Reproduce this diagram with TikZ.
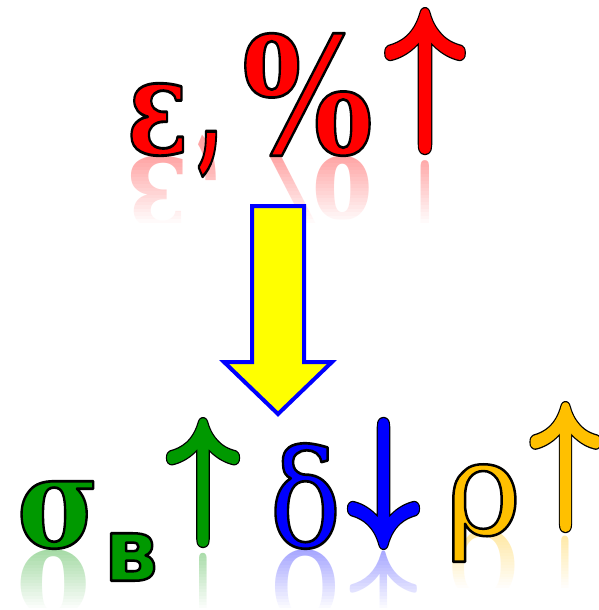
\documentclass[tikz,border=0pt]{standalone}
\usepackage{amsmath}
\usepackage{graphicx}
\usepackage{fontspec}
\newfontfamily\gserif{DejaVu Serif}
\newfontfamily\vsans{DejaVu Sans}
\definecolor{cred}{HTML}{FF0000}
\definecolor{cgreen}{HTML}{009900}
\definecolor{cblue}{HTML}{0000FF}
\definecolor{corange}{HTML}{FFC000}
\definecolor{cyellow}{HTML}{FFFF00}
\newsavebox\gbox
% outlined glyph: #1 colour name, #2 rgb for stroke, #3 W, #4 H, #5 glyph, #6 outline, #7 thickening
\newcommand\olg[7]{%
  {\color{#1}%
  \setbox\gbox=\hbox{#5}%
  \pgfmathsetmacro\sfx{#3/\wd\gbox}%
  \pgfmathsetmacro\sfy{#4/(\ht\gbox+\dp\gbox)}%
  \pgfmathsetmacro\sfm{sqrt(\sfx*\sfy)}%
  \pgfmathsetmacro\lwa{(#6+#7)/\sfm}%
  \pgfmathsetmacro\lwb{#7/\sfm}%
  \special{x:gsave}%
  \special{pdf:literal direct 0 0 0 RG 1 j 1 J \lwa\space w 2 Tr}%
  \ifdim #7pt>0pt
    \rlap{\scalebox{\sfx}[\sfy]{\usebox\gbox}}%
    \special{pdf:literal direct #2 RG \lwb\space w 2 Tr}%
  \fi
  \scalebox{\sfx}[\sfy]{\usebox\gbox}%
  \special{x:grestore}}}
% plain reflected glyph
\newcommand\rfl[4]{{\color{#1!35!white}\scalebox{1}[-1]{\resizebox*{#2pt}{#3pt}{#4}}}}
\newcommand\Eps{\gserif\bfseries ε}
\newcommand\Com{\gserif\bfseries ,}
\newcommand\Pct{\gserif\bfseries \%}
\newcommand\Upa{$\boldsymbol{\uparrow}$}
\newcommand\Dna{$\boldsymbol{\downarrow}$}
\newcommand\Sig{\gserif\bfseries σ}
\newcommand\Vee{\vsans\bfseries в}
\newcommand\Del{\gserif δ}
\newcommand\Rho{\gserif ρ}
\newcommand\fadeband[4]{% x1, x2, ytop, length
  \foreach \i [evaluate=\i as \op using \i/19] in {0,...,19}{%
    \fill[white, fill opacity=\op] ({#1},{#3+\i*#4/20}) rectangle ({#2},{#3+(\i+1)*#4/20});}}
\begin{document}
\begin{tikzpicture}[x=1pt,y=-1pt,
  gl/.style={inner sep=0pt,outer sep=0pt,anchor=south},
  rf/.style={inner sep=0pt,outer sep=0pt,anchor=north},
  blockarrow/.style={draw=cblue,line width=4pt,fill=cyellow,line join=miter}]
\useasboundingbox (0,0) rectangle (599,610);
% reflections
\node[rf] (epsR) at (157.5,156.25) {\rfl{cred}{62}{72.5}{\Eps}};
\node[rf] (comR) at (210.5,135.25) {\rfl{cred}{26}{45.5}{\Com}};
\node[rf] (pctR) at (307.5,156.25) {\rfl{cred}{131}{122.5}{\Pct}};
\node[rf] (upRR) at (425,160.25) {\rfl{cred}{79.5}{141.5}{\Upa}};
\node[rf] (sigR) at (58,549.25) {\rfl{cgreen}{82}{67.5}{\Sig}};
\node[rf] (upGR) at (203,553.25) {\rfl{cgreen}{71.5}{124.5}{\Upa}};
\node[rf] (delR) at (305.5,549.25) {\rfl{cblue}{72}{105.5}{\Del}};
\node[rf] (dnR) at (383.5,551.25) {\rfl{cblue}{70.5}{126.5}{\Dna}};
\node[rf] (rhoR) at (483.5,504.25) {\rfl{corange}{77}{97.5}{\Rho}};
\node[rf] (upOR) at (565.5,536.25) {\rfl{corange}{69.5}{125.5}{\Upa}};
% fading of reflections
\fadeband{100}{490}{156}{70}
\fill[white] (100,226) rectangle (490,400);
\fadeband{0}{440}{549}{62}
\fadeband{440}{620}{533}{58}
\fill[white] (440,591) rectangle (620,620);
% block arrow
\draw[blockarrow] (252,206) -- (304,206) -- (304,362) -- (332,362) -- (278,414)
  -- (224,362) -- (252,362) -- cycle;
% glyphs
\node[gl] (eps) at (157.5,155.75) {\olg{cred}{1 0 0}{62}{72.5}{\Eps}{2.5}{0}};
\node[gl] (com) at (210.5,176.75) {\olg{cred}{1 0 0}{26}{45.5}{\Com}{2.5}{0}};
\node[gl] (pct) at (307.5,155.75) {\olg{cred}{1 0 0}{131}{122.5}{\Pct}{2.5}{0}};
\node[gl] (upR) at (425,151.75) {\olg{cred}{1 0 0}{79.5}{141.5}{\Upa}{2.5}{4}};
\node[gl] (sig) at (58,548.75) {\olg{cgreen}{0 0.6 0}{82}{67.5}{\Sig}{2.5}{0}};
\node[gl] (ve) at (131,580.75) {\olg{cgreen}{0 0.6 0}{54}{47.5}{\Vee}{2.5}{0}};
\node[gl] (upG) at (203,544.75) {\olg{cgreen}{0 0.6 0}{71.5}{124.5}{\Upa}{2.5}{4}};
\node[gl] (del) at (305.5,548.75) {\olg{cblue}{0 0 1}{72}{105.5}{\Del}{2.5}{0}};
\node[gl] (dn) at (383.5,546.75) {\olg{cblue}{0 0 1}{70.5}{126.5}{\Dna}{2.5}{4}};
\node[gl] (rho) at (483.5,561.75) {\olg{corange}{1 0.753 0}{77}{97.5}{\Rho}{2.5}{0}};
\node[gl] (upO) at (565.5,529.75) {\olg{corange}{1 0.753 0}{69.5}{125.5}{\Upa}{2.5}{4}};
\end{tikzpicture}
\end{document}
